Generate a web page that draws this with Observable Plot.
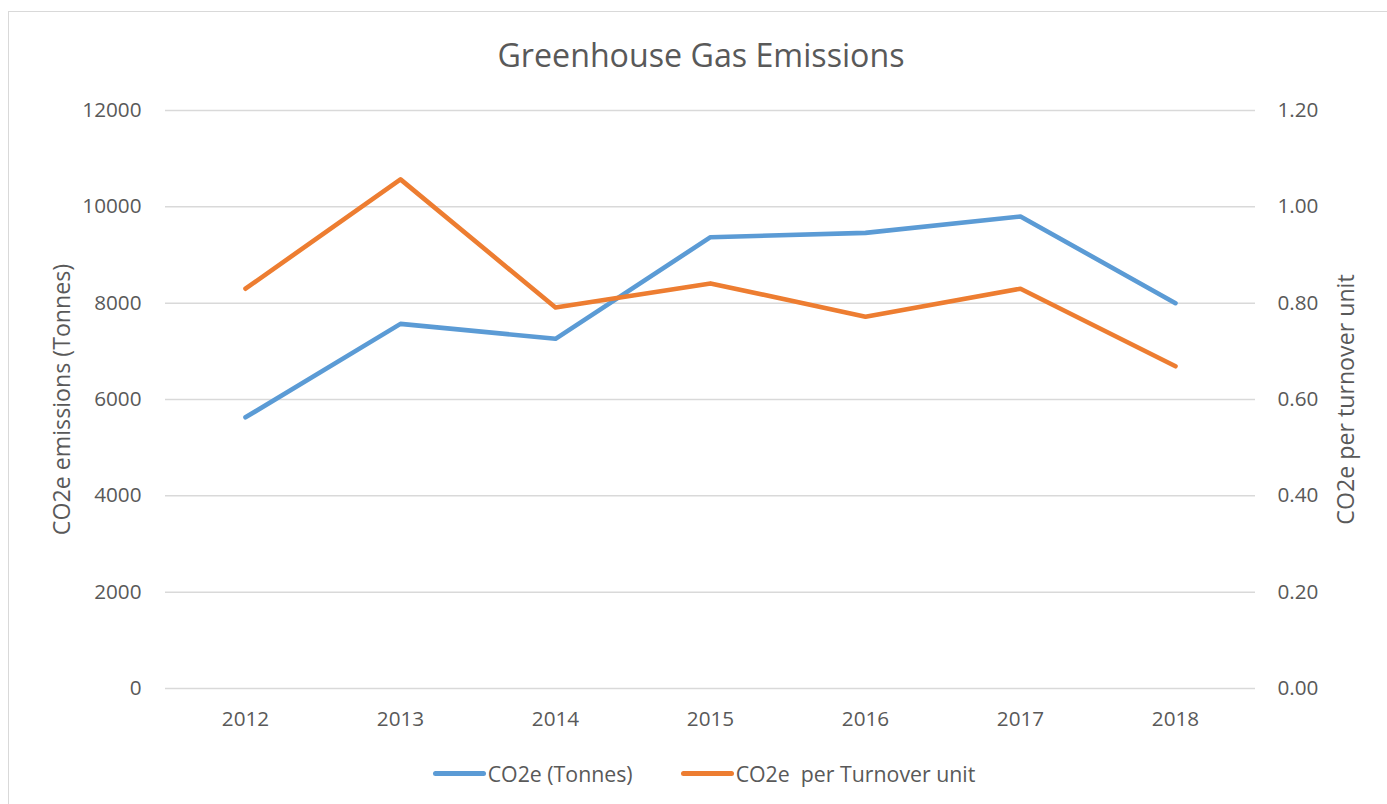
<!DOCTYPE html>
<html>
<head>
<meta charset="utf-8">
<script src="https://cdn.jsdelivr.net/npm/d3@7"></script>
<script src="https://cdn.jsdelivr.net/npm/@observablehq/plot@0.6"></script>
<style>
  html, body { margin: 0; padding: 0; background: #fff; }
  body { width: 1387px; height: 804px; overflow: hidden; position: relative; font-family: "Open Sans", sans-serif; color: #595959; }
  .frame { position: absolute; left: 8px; top: 11px; width: 1400px; height: 900px; border: 1.5px solid #d9d9d9; box-sizing: border-box; }
  #chart { position: absolute; left: 0; top: 0; width: 1387px; }
  .title { height: 80px; box-sizing: border-box; padding-top: 36px; padding-left: 15px; text-align: center; font-size: 32.2px; line-height: 38px; color: #595959; }
  .legend { height: 66px; display: flex; justify-content: center; align-items: center; padding-left: 21px; box-sizing: border-box; font-size: 21.3px; color: #595959; white-space: pre; }
  .item { display: flex; align-items: center; }
  .item + .item { margin-left: 48px; }
  .sw { width: 53px; height: 5px; border-radius: 3px; margin-right: 2px; }
</style>
</head>
<body>
<div class="frame"></div>
<div id="chart"></div>
<script>
const years = ["2012", "2013", "2014", "2015", "2016", "2017", "2018"];
const co2Tonnes = [5630, 7570, 7260, 9370, 9460, 9800, 8000];
const co2PerTurnover = [0.830, 1.057, 0.791, 0.841, 0.772, 0.830, 0.669];
const leftTicks = [0, 2000, 4000, 6000, 8000, 10000, 12000];
const rightTicks = [0, 0.2, 0.4, 0.6, 0.8, 1.0, 1.2];
const seriesNames = ["CO2e (Tonnes)", "CO2e  per Turnover unit"];
const colors = ["#5B9BD5", "#ED7D31"];
const titleText = "Greenhouse Gas Emissions";
const leftLabel = "CO2e emissions (Tonnes)";
const rightLabel = "CO2e per turnover unit";

// secondary axis maps 0–1.2 onto 0–12000
const ratio = 12000 / 1.2;

const tonnes = years.map((y, i) => ({year: y, value: co2Tonnes[i]}));
const perUnit = years.map((y, i) => ({year: y, value: co2PerTurnover[i]}));

const chart = document.getElementById("chart");

const title = document.createElement("div");
title.className = "title";
title.textContent = titleText;
chart.appendChild(title);

const plot = Plot.plot({
  width: 1387,
  height: 660,
  marginTop: 30,
  marginBottom: 52,
  marginLeft: 165,
  marginRight: 132,
  style: {fontFamily: "Open Sans, sans-serif", fontSize: "20.7px", color: "#595959", background: "transparent"},
  x: {type: "point", domain: years, padding: 0.5, label: null},
  y: {domain: [0, 12000], label: null},
  marks: [
    Plot.ruleY(leftTicks, {stroke: "#d9d9d9", strokeWidth: 1.5}),
    Plot.axisX({tickSize: 0, tickPadding: 23, label: null}),
    Plot.axisY(leftTicks, {
      anchor: "left", tickSize: 0, tickPadding: 24,
      tickFormat: d => String(d), label: null
    }),
    Plot.axisY(rightTicks.map(v => v * ratio), {
      anchor: "right", tickSize: 0, tickPadding: 22,
      tickFormat: d => (d / ratio).toFixed(2), label: null
    }),
    Plot.text([leftLabel], {frameAnchor: "left", textAnchor: "middle", dx: -103, rotate: -90, text: d => d, fontSize: 23.2, fill: "#595959"}),
    Plot.text([rightLabel], {frameAnchor: "right", textAnchor: "middle", dx: 91, rotate: -90, text: d => d, fontSize: 23.2, fill: "#595959"}),
    Plot.line(tonnes, {x: "year", y: "value", stroke: colors[0], strokeWidth: 4.6, strokeLinecap: "round", strokeLinejoin: "round"}),
    Plot.line(perUnit, {x: "year", y: d => d.value * ratio, stroke: colors[1], strokeWidth: 4.6, strokeLinecap: "round", strokeLinejoin: "round"})
  ]
});
chart.appendChild(plot);

const legend = document.createElement("div");
legend.className = "legend";
seriesNames.forEach((name, i) => {
  const item = document.createElement("div");
  item.className = "item";
  const sw = document.createElement("div");
  sw.className = "sw";
  sw.style.background = colors[i];
  const label = document.createElement("span");
  label.textContent = name;
  item.appendChild(sw);
  item.appendChild(label);
  legend.appendChild(item);
});
chart.appendChild(legend);
</script>
</body>
</html>
